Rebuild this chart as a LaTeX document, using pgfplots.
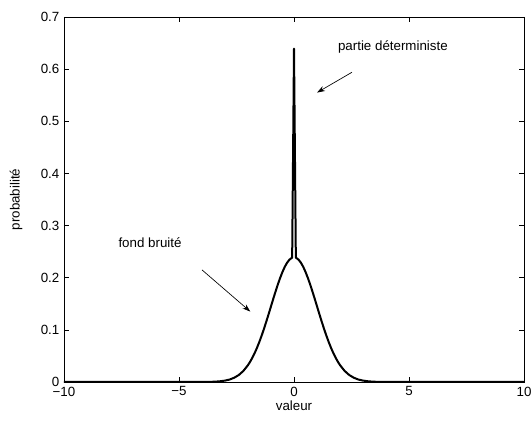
\documentclass[border=0pt]{standalone}
\usepackage{fontspec}
\setmainfont{Liberation Sans}
\usepackage{pgfplots}
\pgfplotsset{compat=1.18}
\usetikzlibrary{arrows.meta}

\begin{document}
\begin{tikzpicture}
  \begin{axis}[
      name=ax,
      scale only axis,
      width=345pt, height=273.75pt,
      xmin=-10, xmax=10,
      ymin=0, ymax=0.7,
      xtick={-10,-5,0,5,10},
      xticklabels={−10,−5,0,5,10},
      ytick={0,0.1,0.2,0.3,0.4,0.5,0.6,0.7},
      yticklabels={0,0.1,0.2,0.3,0.4,0.5,0.6,0.7},
      tick align=inside,
      major tick length=3.5pt,
      every tick/.style={black, line width=0.4pt},
      axis line style={line width=0.6pt},
      tick label style={font=\fontsize{10}{12}\selectfont},
      label style={font=\fontsize{10}{12}\selectfont},
      xlabel={valeur},
      ylabel={probabilité},
      xlabel style={at={(axis description cs:0.5,-0.066)}, anchor=center},
      ylabel style={at={(axis description cs:-0.104,0.5)}, anchor=center},
      clip=false,
    ]
    % fond gaussien (0.6 N(0,1)) + partie deterministe en 0
    \addplot[black, line width=1.5pt, line join=round] coordinates {
      (-10,0) (-5,0) (-4.5,0.0000) (-4,0.0001) (-3.5,0.0005) (-3.25,0.0012)
      (-3,0.0027) (-2.8,0.0047) (-2.6,0.0082) (-2.4,0.0134) (-2.2,0.0213)
      (-2,0.0324) (-1.9,0.0394) (-1.8,0.0474) (-1.7,0.0564) (-1.6,0.0666)
      (-1.5,0.0777) (-1.4,0.0898) (-1.3,0.1028) (-1.2,0.1165) (-1.1,0.1307)
      (-1,0.1452) (-0.9,0.1597) (-0.8,0.1738) (-0.7,0.1874) (-0.6,0.1999)
      (-0.5,0.2112) (-0.4,0.2210) (-0.3,0.2288) (-0.2,0.2346) (-0.08,0.2386)
      (0,0.6394)
      (0.08,0.2386) (0.2,0.2346) (0.3,0.2288) (0.4,0.2210) (0.5,0.2112)
      (0.6,0.1999) (0.7,0.1874) (0.8,0.1738) (0.9,0.1597) (1,0.1452)
      (1.1,0.1307) (1.2,0.1165) (1.3,0.1028) (1.4,0.0898) (1.5,0.0777)
      (1.6,0.0666) (1.7,0.0564) (1.8,0.0474) (1.9,0.0394) (2,0.0324)
      (2.2,0.0213) (2.4,0.0134) (2.6,0.0082) (2.8,0.0047) (3,0.0027)
      (3.25,0.0012) (3.5,0.0005) (4,0.0001) (4.5,0.0000) (5,0) (10,0)
    };
    \node[font=\fontsize{10}{12}\selectfont] at (axis cs:4.3,0.6425) {partie déterministe};
    \draw[-{Stealth[length=6pt,width=4pt]}, line width=0.5pt] (axis cs:2.52,0.594) -- (axis cs:1,0.555);
    \node[font=\fontsize{10}{12}\selectfont] at (axis cs:-6.26,0.267) {fond bruité};
    \draw[-{Stealth[length=6pt,width=4pt]}, line width=0.5pt] (axis cs:-4,0.215) -- (axis cs:-1.9,0.135);
  \end{axis}
  \pgfresetboundingbox
  \path[use as bounding box] (-48pt,-33.75pt) rectangle (350.25pt,286.5pt);
\end{tikzpicture}
\end{document}
